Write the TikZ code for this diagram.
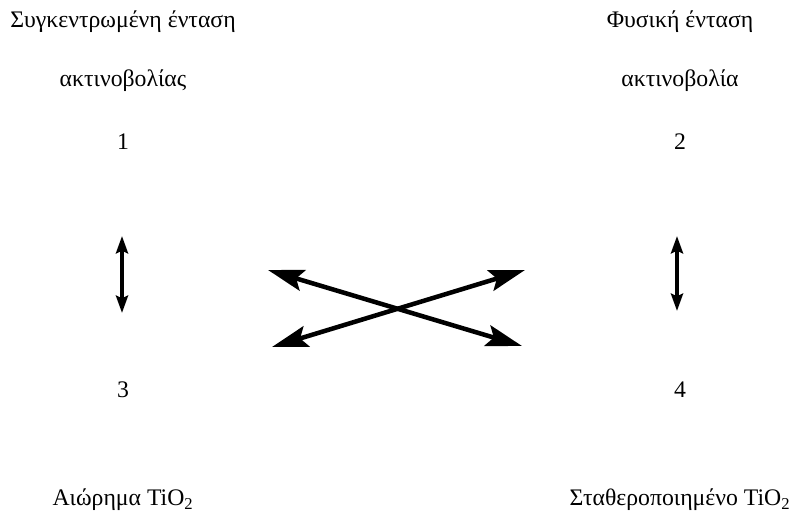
\documentclass[tikz,border=0pt]{standalone}
\usepackage{fontspec}
\setmainfont{Liberation Serif}
\usetikzlibrary{arrows.meta}
\tikzset{
  lbl/.style={font=\fontsize{17.8}{20}\selectfont, inner sep=0pt},
  dbl/.style={line width=3.4pt, {Stealth[length=13pt,width=9pt,inset=2pt]}-{Stealth[length=13pt,width=9pt,inset=2pt]}},
  crs/.style={line width=3.4pt, {Stealth[length=27pt,width=16pt,inset=5pt]}-{Stealth[length=27pt,width=16pt,inset=5pt]}}
}
\begin{document}
\begin{tikzpicture}[x=0.75pt,y=-0.75pt]
\useasboundingbox (0,0) rectangle (793,520);

\node[lbl] (lt1) at (123,22) {Συγκεντρωμένη ένταση};
\node[lbl] (lt2) at (123,81) {ακτινοβολίας};
\node[lbl] (n1) at (123,142) {1};
\node[lbl] (rt1) at (680,22) {Φυσική ένταση};
\node[lbl] (rt2) at (680,81) {ακτινοβολία};
\node[lbl] (n2) at (680,142) {2};
\node[lbl] (n3) at (123,390) {3};
\node[lbl] (n4) at (680,390) {4};
\node[lbl] (lb) at (123,500) {Αιώρημα TiO\textsubscript{2}};
\node[lbl] (rb) at (680,500) {Σταθεροποιημένο TiO\textsubscript{2}};

\coordinate (v1a) at (122,236);
\coordinate (v1b) at (122,313);
\coordinate (v2a) at (677,236);
\coordinate (v2b) at (677,311);
\coordinate (c1a) at (268,270);
\coordinate (c1b) at (522,346);
\coordinate (c2a) at (272,347);
\coordinate (c2b) at (525,270);

\draw[dbl] (v1a) -- (v1b);
\draw[dbl] (v2a) -- (v2b);
\draw[crs] (c1a) -- (c1b);
\draw[crs] (c2a) -- (c2b);
\end{tikzpicture}
\end{document}
